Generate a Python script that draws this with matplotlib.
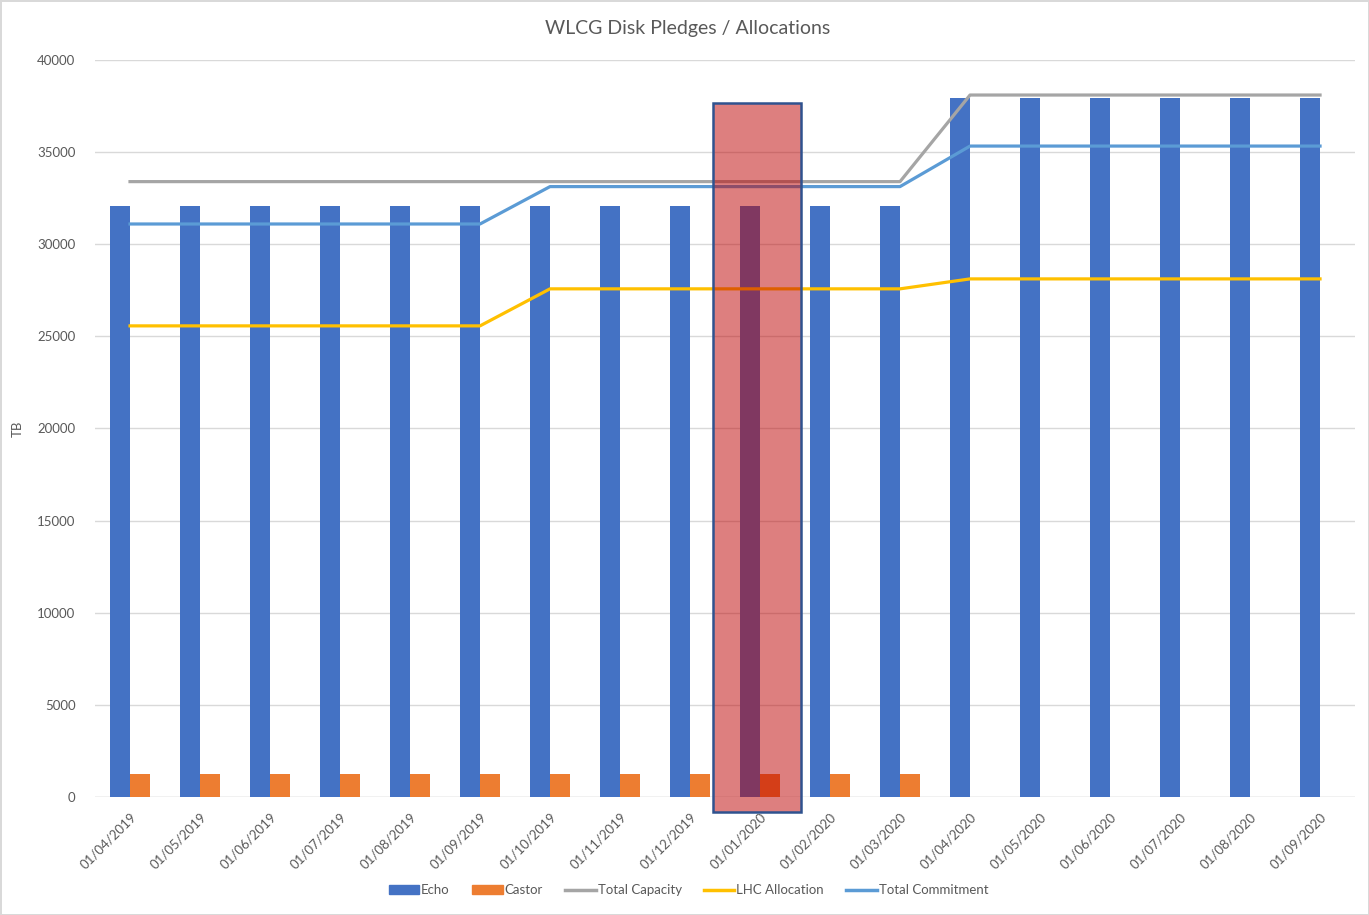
import matplotlib.pyplot as plt
import numpy as np
from matplotlib.patches import Rectangle, Patch
from matplotlib.lines import Line2D

plt.rcParams['font.family'] = ['Lato', 'DejaVu Sans']

# Data
months = ['01/04/2019', '01/05/2019', '01/06/2019', '01/07/2019', '01/08/2019',
          '01/09/2019', '01/10/2019', '01/11/2019', '01/12/2019', '01/01/2020',
          '01/02/2020', '01/03/2020', '01/04/2020', '01/05/2020', '01/06/2020',
          '01/07/2020', '01/08/2020', '01/09/2020']
echo = [32100] * 12 + [37950] * 6
castor = [1250] * 12 + [0] * 6
total_capacity = [33400] * 12 + [38100] * 6
lhc_allocation = [25570] * 6 + [27580] * 6 + [28120] * 6
total_commitment = [31100] * 6 + [33130] * 6 + [35330] * 6

# Highlighted month
highlight = '01/01/2020'

x = np.arange(len(months))
bw = 0.286

fig = plt.figure(figsize=(13.69, 9.15), dpi=100)
fig.patch.set_edgecolor('#D9D9D9')
fig.patch.set_linewidth(2)
ax = fig.add_axes([0.0694, 0.129, 0.9204, 0.8054])

ax.bar(x - bw / 2, echo, bw, color='#4472C4', zorder=2)
ax.bar(x + bw / 2, castor, bw, color='#ED7D31', zorder=2)
ax.plot(x, total_capacity, color='#A5A5A5', lw=2.3, zorder=3)
ax.plot(x, lhc_allocation, color='#FFC000', lw=2.3, zorder=3)
ax.plot(x, total_commitment, color='#5B9BD5', lw=2.3, zorder=3)

# highlight box over one month
hi = months.index(highlight)
ax.add_patch(Rectangle((hi - 0.67, -810), 1.255, 38480, facecolor=(0.74, 0, 0, 0.5),
                       edgecolor='#2F528F', lw=1.8, clip_on=False, zorder=5))

ax.set_xlim(-0.5, len(months) - 0.5)
ax.set_ylim(0, 40000)
ax.set_yticks(range(0, 40001, 5000))
ax.set_xticks(x)
ax.set_xticklabels(months, rotation=45, ha='right', va='top', rotation_mode='anchor')
ax.tick_params(length=0, labelsize=9.5, colors='#595959')
ax.tick_params(axis='x', pad=10)
ax.tick_params(axis='y', pad=14)
ax.grid(axis='y', color='#D9D9D9', lw=1, zorder=0)
for s in ax.spines.values():
    s.set_visible(False)
ax.axhline(0, color='#D9D9D9', lw=1, zorder=1)

ax.set_ylabel('TB', fontsize=9.5, color='#595959', labelpad=10)
fig.text(0.502, 0.969, 'WLCG Disk Pledges / Allocations', ha='center', va='center',
         fontsize=14, color='#595959')

handles = [Patch(color='#4472C4'), Patch(color='#ED7D31'),
           Line2D([], [], color='#A5A5A5', lw=2.5),
           Line2D([], [], color='#FFC000', lw=2.5),
           Line2D([], [], color='#5B9BD5', lw=2.5)]
labels = ['Echo', 'Castor', 'Total Capacity', 'LHC Allocation', 'Total Commitment']
leg = fig.legend(handles, labels, loc='center', bbox_to_anchor=(0.503, 0.027), ncol=5,
                 frameon=False, fontsize=9.5, handlelength=2.3, handleheight=0.6,
                 handletextpad=0.15, columnspacing=1.7)
for t in leg.get_texts():
    t.set_color('#595959')

fig.savefig('out.png', dpi=100, edgecolor=fig.get_edgecolor())
